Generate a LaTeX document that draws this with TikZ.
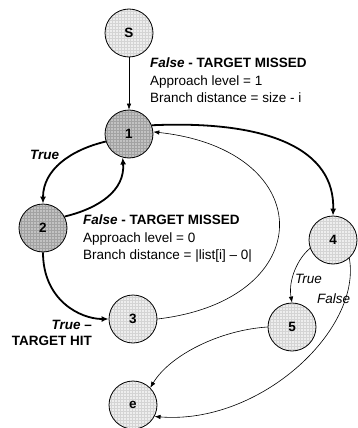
\documentclass[tikz,border=0pt]{standalone}
\usepackage{fontspec}
\setmainfont{Liberation Sans}
\usepackage{tikz}
\usetikzlibrary{arrows.meta}
\newcommand{\statesize}{48pt}
\newcommand{\thinw}{0.6pt}
\newcommand{\thickw}{1.8pt}
\definecolor{lightfill}{HTML}{EEEEEE}
\definecolor{lightgrid}{HTML}{D4D4D4}
\definecolor{darkfill}{HTML}{C2C2C2}
\definecolor{darkgrid}{HTML}{A2A2A2}

\begin{document}
\begin{tikzpicture}[x=1pt,y=1pt,
        font=\fontsize{13.5}{17.5}\selectfont,
        state/.style={circle, draw, line width=0.8pt, minimum size=\statesize, inner sep=0pt, font=\fontsize{13.5}{17.5}\selectfont\bfseries},
        gridfill/.style={path picture={\draw[#1, line width=0.25pt, step=3pt] (path picture bounding box.south west) grid (path picture bounding box.north east);}},
        lightstate/.style={state, fill=lightfill, gridfill=lightgrid},
        darkstate/.style={state, fill=darkfill, gridfill=darkgrid},
        thinedge/.style={line width=\thinw, -{Latex[length=6pt,width=4.5pt]}},
        thickedge/.style={line width=\thickw, -{Latex[length=7pt,width=6pt]}},
        note/.style={align=left, inner sep=0pt, anchor=north west}]
                %\draw[help lines] (0,0) grid (357,-428);
                \useasboundingbox (0,0) rectangle (357,-428);
                % states
                \node[lightstate] (s) at (129,-33) {S};
                \node[darkstate] (n1) at (129,-134) {1};
                \node[darkstate] (n2) at (43,-228) {2};
                \node[lightstate] (n3) at (133,-319) {3};
                \node[lightstate] (n4) at (333,-240) {4};
                \node[lightstate] (n5) at (292,-327) {5};
                \node[lightstate] (e) at (133,-405) {e};
                % edges
                \draw[thinedge] (s) -- (n1);
                \draw[thickedge] (n1.198) .. controls (70,-150) and (43,-170) .. (n2.north);
                \draw[thickedge] (n2.28) .. controls (100,-208) and (125,-190) .. (n1.255);
                \draw[thickedge] (n2.south) .. controls (43,-300) and (80,-319) .. (n3.west);
                \draw[thinedge] (n3.east) .. controls (320,-300) and (320,-150) .. (n1.5);
                \draw[thickedge] (n1.21) .. controls (270,-120) and (335,-150) .. (n4.north);
                \draw[thinedge] (n4.200) .. controls (298,-258) and (288,-280) .. (n5.north);
                \draw[thinedge] (n4.-48) .. controls (362,-330) and (260,-425) .. (e.-28);
                \draw[thinedge] (n5.west) .. controls (220,-330) and (170,-355) .. (e.45);
                % labels
                \node[note] (miss1) at (150,-58) {\textbf{\textit{False} - TARGET MISSED}\\Approach level = 1\\Branch distance = size - i};
                \node[note] (miss2) at (83,-215) {\textbf{\textit{False} - TARGET MISSED}\\Approach level = 0\\Branch distance = |list[i] – 0|};
                \node[align=right, inner sep=0pt, anchor=north east, font=\fontsize{13.5}{16.5}\selectfont\bfseries] (hit) at (92,-320) {\textit{True} –\\TARGET HIT};
                \node[inner sep=0pt, anchor=base west, font=\fontsize{13.5}{17.5}\selectfont\bfseries\itshape] (t12) at (30,-159) {True};
                \node[inner sep=0pt, anchor=base west, font=\fontsize{13.5}{17.5}\selectfont\itshape] (t45) at (295,-283) {True};
                \node[inner sep=0pt, anchor=base west, font=\fontsize{13.5}{17.5}\selectfont\itshape] (f4e) at (317,-303) {False};
        \end{tikzpicture}
\end{document}
